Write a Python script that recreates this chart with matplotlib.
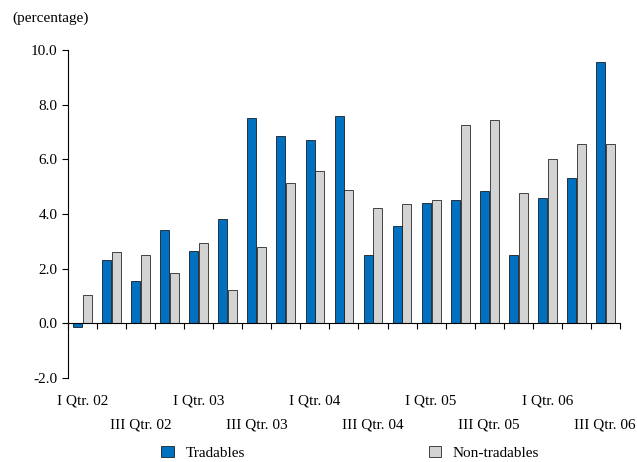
import matplotlib
matplotlib.use("Agg")
import matplotlib.pyplot as plt
import numpy as np
from matplotlib.patches import Patch

plt.rcParams['font.family'] = ['Liberation Serif', 'DejaVu Serif']

quarters = ["I Qtr. 02","II Qtr. 02","III Qtr. 02","IV Qtr. 02","I Qtr. 03","II Qtr. 03","III Qtr. 03","IV Qtr. 03",
            "I Qtr. 04","II Qtr. 04","III Qtr. 04","IV Qtr. 04","I Qtr. 05","II Qtr. 05","III Qtr. 05","IV Qtr. 05",
            "I Qtr. 06","II Qtr. 06","III Qtr. 06"]
tradables = [-0.15,2.3,1.55,3.4,2.65,3.8,7.5,6.85,6.7,7.6,2.5,3.55,4.4,4.5,4.85,2.5,4.6,5.3,9.55]
non_tradables = [1.05,2.62,2.48,1.85,2.92,1.22,2.78,5.12,5.58,4.87,4.2,4.35,4.52,7.25,7.45,4.75,6.02,6.55,6.55]

fig = plt.figure(figsize=(6.37,4.62), dpi=100)
ax = fig.add_axes([0.107,0.182,0.866,0.71])
x = np.arange(len(quarters))
w = 0.31
ax.bar(x-0.17, tradables, w, color='#0070C0', edgecolor='black', linewidth=0.5)
ax.bar(x+0.17, non_tradables, w, color='#D3D3D3', edgecolor='black', linewidth=0.5)
ax.set_xlim(-0.5, len(quarters)-0.5)
ax.set_ylim(-2, 10)
ax.set_yticks(np.arange(-2, 10.1, 2))
ax.set_yticklabels([f"{v:.1f}" for v in np.arange(-2, 10.1, 2)], fontsize=11)
for s in ['top','right']:
    ax.spines[s].set_visible(False)
ax.spines['bottom'].set_position(('data',0))
ax.set_xticks(np.arange(-0.5, len(quarters), 1))
ax.set_xticklabels([])
ax.tick_params(axis='x', direction='out', length=4)
ax.tick_params(axis='y', direction='out', length=4)
for i, q in enumerate(quarters):
    if q.startswith("I Qtr"):
        ax.text(i, -0.05, q, transform=ax.get_xaxis_transform(), ha='center', va='top', fontsize=11)
    elif q.startswith("III Qtr"):
        ax.text(i, -0.125, q, transform=ax.get_xaxis_transform(), ha='center', va='top', fontsize=11)
fig.text(0.02, 0.975, "(percentage)", fontsize=11, va='top')
handles = [Patch(facecolor='#0070C0', edgecolor='black', linewidth=0.5, label='Tradables'),
           Patch(facecolor='#D3D3D3', edgecolor='black', linewidth=0.5, label='Non-tradables')]
fig.legend(handles=handles, loc='lower center', bbox_to_anchor=(0.55, -0.025), ncol=2, frameon=False,
           fontsize=11, handlelength=0.8, handleheight=0.8, columnspacing=12)
fig.savefig("out.png", dpi=100)
